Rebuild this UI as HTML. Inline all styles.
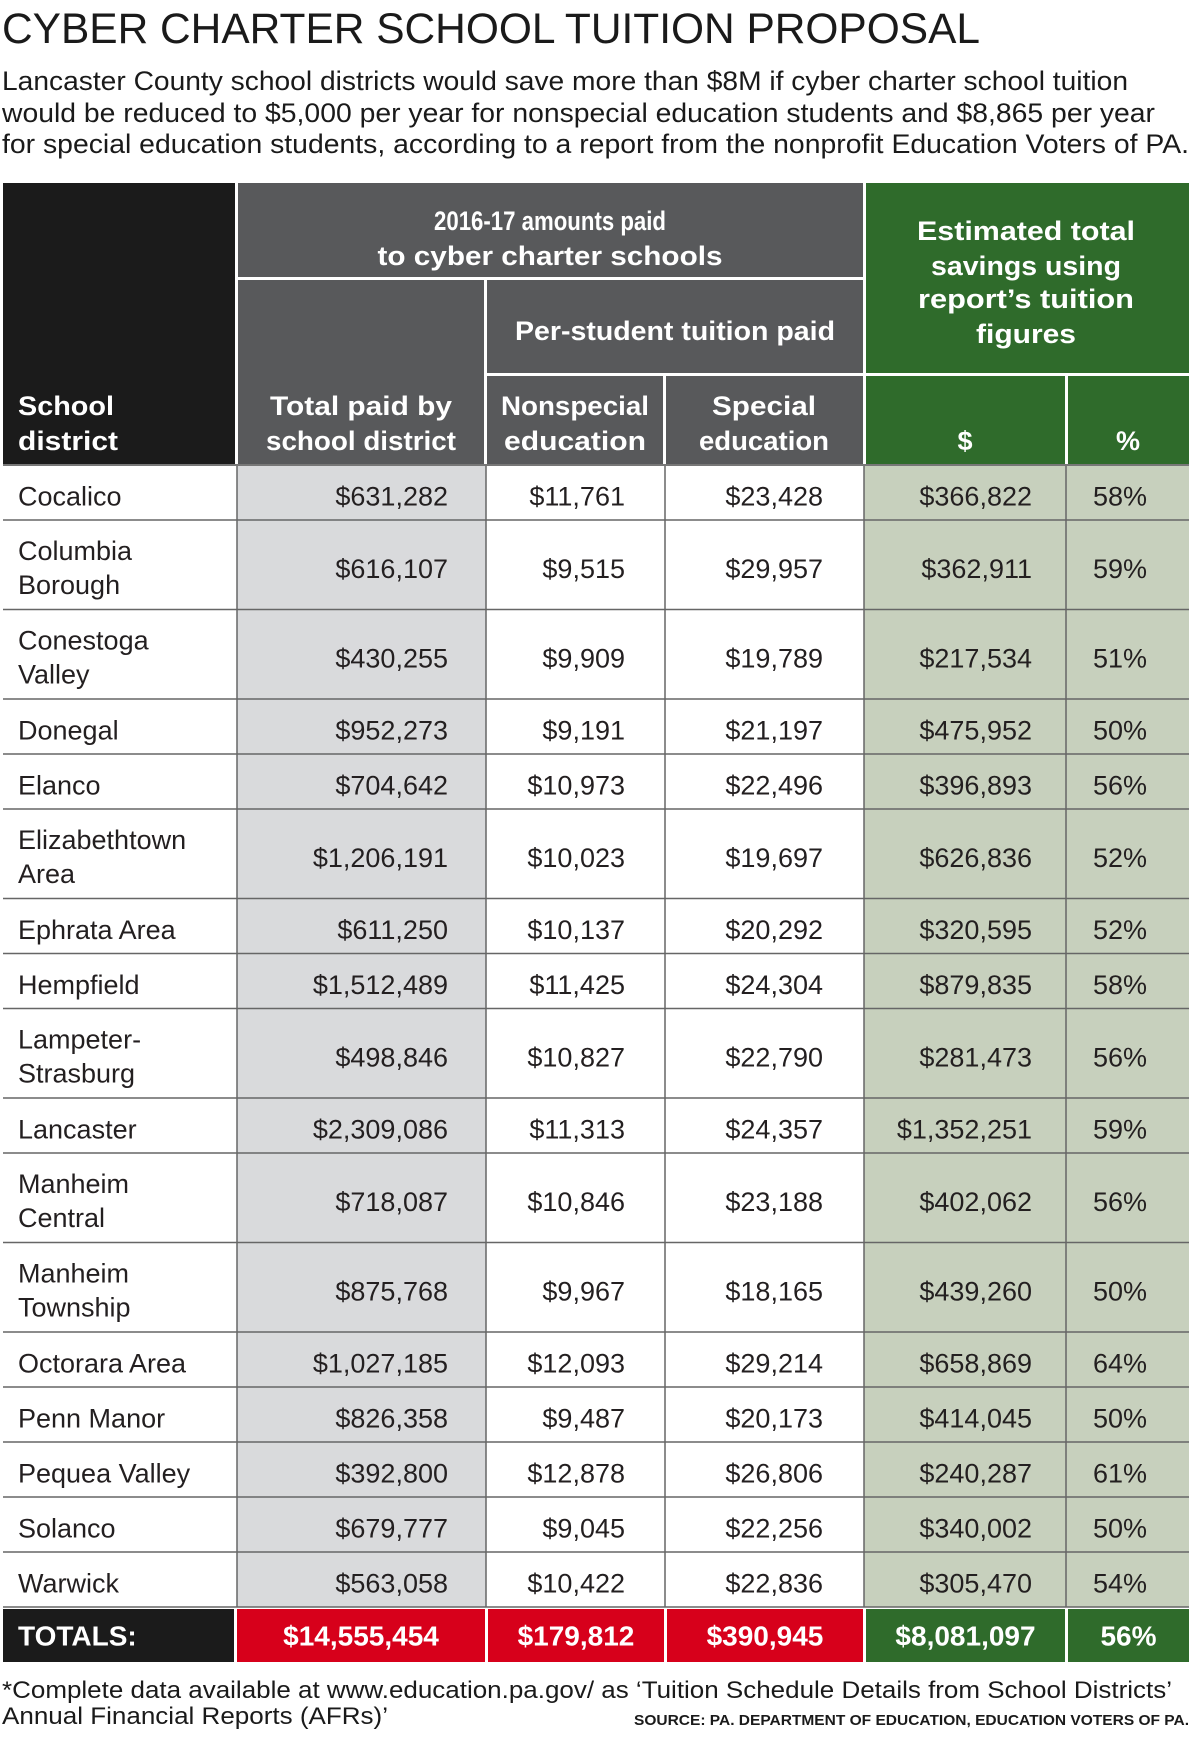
<!DOCTYPE html>
<html><head><meta charset="utf-8"><style>
body{margin:0;background:#fff;width:1191px;height:1741px;overflow:hidden}
svg text{font-family:"Liberation Sans",sans-serif}
</style></head><body>
<svg id="s" width="1191" height="1741" viewBox="0 0 1191 1741">
<text x="2" y="43" font-size="43" fill="#1a1a1a" textLength="978" lengthAdjust="spacingAndGlyphs">CYBER CHARTER SCHOOL TUITION PROPOSAL</text>
<text x="2" y="90" font-size="27" fill="#1a1a1a" textLength="1126" lengthAdjust="spacingAndGlyphs">Lancaster County school districts would save more than $8M if cyber charter school tuition</text>
<text x="2" y="122" font-size="27" fill="#1a1a1a" textLength="1153" lengthAdjust="spacingAndGlyphs">would be reduced to $5,000 per year for nonspecial education students and $8,865 per year</text>
<text x="2" y="153" font-size="27" fill="#1a1a1a" textLength="1187" lengthAdjust="spacingAndGlyphs">for special education students, according to a report from the nonprofit Education Voters of PA.</text>
<g id="hdr">
<rect x="3" y="183" width="232" height="281" fill="#1b1b1b"/>
<rect x="238" y="183" width="625" height="94" fill="#58595b"/>
<rect x="238" y="280" width="246" height="184" fill="#58595b"/>
<rect x="487" y="280" width="376" height="93" fill="#58595b"/>
<rect x="487" y="376" width="176" height="88" fill="#58595b"/>
<rect x="666" y="376" width="197" height="88" fill="#58595b"/>
<rect x="866" y="183" width="323" height="190" fill="#2f6b2b"/>
<rect x="866" y="376" width="199" height="88" fill="#2f6b2b"/>
<rect x="1068" y="376" width="121" height="88" fill="#2f6b2b"/>
<g font-weight="bold" fill="#fff" font-size="27">
<text x="550" y="230" text-anchor="middle" textLength="232" lengthAdjust="spacingAndGlyphs">2016-17 amounts paid</text>
<text x="550" y="265" text-anchor="middle" textLength="345" lengthAdjust="spacingAndGlyphs">to cyber charter schools</text>
<text x="675" y="340" text-anchor="middle" textLength="320" lengthAdjust="spacingAndGlyphs">Per-student tuition paid</text>
<text x="1026" y="240" text-anchor="middle" textLength="218" lengthAdjust="spacingAndGlyphs">Estimated total</text>
<text x="1026" y="275" text-anchor="middle" textLength="190" lengthAdjust="spacingAndGlyphs">savings using</text>
<text x="1026" y="308" text-anchor="middle" textLength="216" lengthAdjust="spacingAndGlyphs">report’s tuition</text>
<text x="1026" y="343" text-anchor="middle" textLength="100" lengthAdjust="spacingAndGlyphs">figures</text>
<text x="18" y="415" textLength="96" lengthAdjust="spacingAndGlyphs">School</text>
<text x="18" y="450" textLength="100" lengthAdjust="spacingAndGlyphs">district</text>
<text x="361" y="415" text-anchor="middle" textLength="182" lengthAdjust="spacingAndGlyphs">Total paid by</text>
<text x="361" y="450" text-anchor="middle" textLength="190" lengthAdjust="spacingAndGlyphs">school district</text>
<text x="575" y="415" text-anchor="middle" textLength="148" lengthAdjust="spacingAndGlyphs">Nonspecial</text>
<text x="575" y="450" text-anchor="middle" textLength="142" lengthAdjust="spacingAndGlyphs">education</text>
<text x="764" y="415" text-anchor="middle" textLength="104" lengthAdjust="spacingAndGlyphs">Special</text>
<text x="764" y="450" text-anchor="middle" textLength="130" lengthAdjust="spacingAndGlyphs">education</text>
<text x="965" y="450" text-anchor="middle">$</text>
<text x="1128" y="450" text-anchor="middle">%</text>
</g></g>
<g id="body"></g>
<text x="2" y="1698" font-size="24" fill="#1a1a1a" textLength="1170" lengthAdjust="spacingAndGlyphs">*Complete data available at www.education.pa.gov/ as ‘Tuition Schedule Details from School Districts’</text>
<text x="2" y="1724" font-size="24" fill="#1a1a1a" textLength="386" lengthAdjust="spacingAndGlyphs">Annual Financial Reports (AFRs)’</text>
<text x="1189" y="1725" font-size="15" font-weight="bold" fill="#1a1a1a" text-anchor="end" textLength="555" lengthAdjust="spacingAndGlyphs">SOURCE:  PA. DEPARTMENT OF EDUCATION, EDUCATION VOTERS OF PA.</text>
</svg>
<script>
const districts=[["Cocalico"],["Columbia","Borough"],["Conestoga","Valley"],["Donegal"],["Elanco"],["Elizabethtown","Area"],["Ephrata Area"],["Hempfield"],["Lampeter-","Strasburg"],["Lancaster"],["Manheim","Central"],["Manheim","Township"],["Octorara Area"],["Penn Manor"],["Pequea Valley"],["Solanco"],["Warwick"]];
const totalPaid=[631282,616107,430255,952273,704642,1206191,611250,1512489,498846,2309086,718087,875768,1027185,826358,392800,679777,563058];
const nonspecial=[11761,9515,9909,9191,10973,10023,10137,11425,10827,11313,10846,9967,12093,9487,12878,9045,10422];
const special=[23428,29957,19789,21197,22496,19697,20292,24304,22790,24357,23188,18165,29214,20173,26806,22256,22836];
const savings=[366822,362911,217534,475952,396893,626836,320595,879835,281473,1352251,402062,439260,658869,414045,240287,340002,305470];
const savingsPct=[58,59,51,50,56,52,52,58,56,59,56,50,64,50,61,50,54];
const totals=["$14,555,454","$179,812","$390,945","$8,081,097","56%"];
const NS="http://www.w3.org/2000/svg";
const g=document.getElementById('body');
function mk(tag,attrs,txt){const e=document.createElementNS(NS,tag);for(const k in attrs)e.setAttribute(k,attrs[k]);if(txt!==undefined)e.textContent=txt;g.appendChild(e);return e;}
const fmt=v=>"$"+v.toLocaleString("en-US");
const cols=[[3,235],[237,486],[486,665],[665,864],[864,1066],[1066,1189]];
const rightX=[0,448,625,823,1032,1147];
const single=55,dbl=89.5;
const y0=465;
let y=y0;
const rowsY=districts.map(d=>{const h=d.length>1?dbl:single;const r=[y,h];y+=h;return r;});
const yEnd=y;
// column backgrounds
let bg;
bg=mk('rect',{x:237,y:y0,width:249,height:yEnd-y0,fill:'#d9dadc'});


bg=mk('rect',{x:864,y:y0,width:325,height:yEnd-y0,fill:'#c7d0bd'});


// vertical lines
[237,486,665,864,1066].forEach(x=>{const l=mk('line',{x1:x,x2:x,y1:y0,y2:yEnd,stroke:'#666','stroke-width':1.5});

});
mk('line',{x1:3,x2:1189,y1:y0,y2:y0,stroke:'#777','stroke-width':2});
districts.forEach((d,i)=>{
  const [ry,h]=rowsY[i];const c=ry+h/2;
  const ln=mk('line',{x1:3,x2:1189,y1:ry+h,y2:ry+h,stroke:'#666','stroke-width':1.5});
  
  
  const f={'font-size':27,fill:'#231f20'};
  if(d.length>1){
    const t1=mk('text',Object.assign({x:18,y:c-5},f),d[0]);
    
    
    const t2=mk('text',Object.assign({x:18,y:c+29},f),d[1]);
    
    
  } else {
    const t=mk('text',Object.assign({x:18,y:c+13},f),d[0]);
    
    
  }
  const vals=[fmt(totalPaid[i]),fmt(nonspecial[i]),fmt(special[i]),fmt(savings[i]),savingsPct[i]+"%"];
  vals.forEach((v,j)=>{
    const t=mk('text',Object.assign({x:rightX[j+1],y:c+13,'text-anchor':'end'},f),v);
    
    
  });
});
// totals row
const ty=yEnd+2,th=1662-ty;
const tcols=[[3,234,'#1b1b1b'],[237,485,'#d7001b'],[488,664,'#d7001b'],[667,863,'#d7001b'],[866,1065,'#2f6b2b'],[1068,1189,'#2f6b2b']];
tcols.forEach((tc,j)=>{
  const r=mk('rect',{x:tc[0],y:ty,width:tc[1]-tc[0],height:th,fill:tc[2]});
  
  
  const lbl=j===0?"TOTALS:":totals[j-1];
  const t=mk('text',{x:j===0?18:(tc[0]+tc[1])/2,y:ty+th/2+10,'text-anchor':j===0?'start':'middle','font-size':28,'font-weight':'bold',fill:'#fff'},lbl);
  
  
});
</script>
</body></html>
